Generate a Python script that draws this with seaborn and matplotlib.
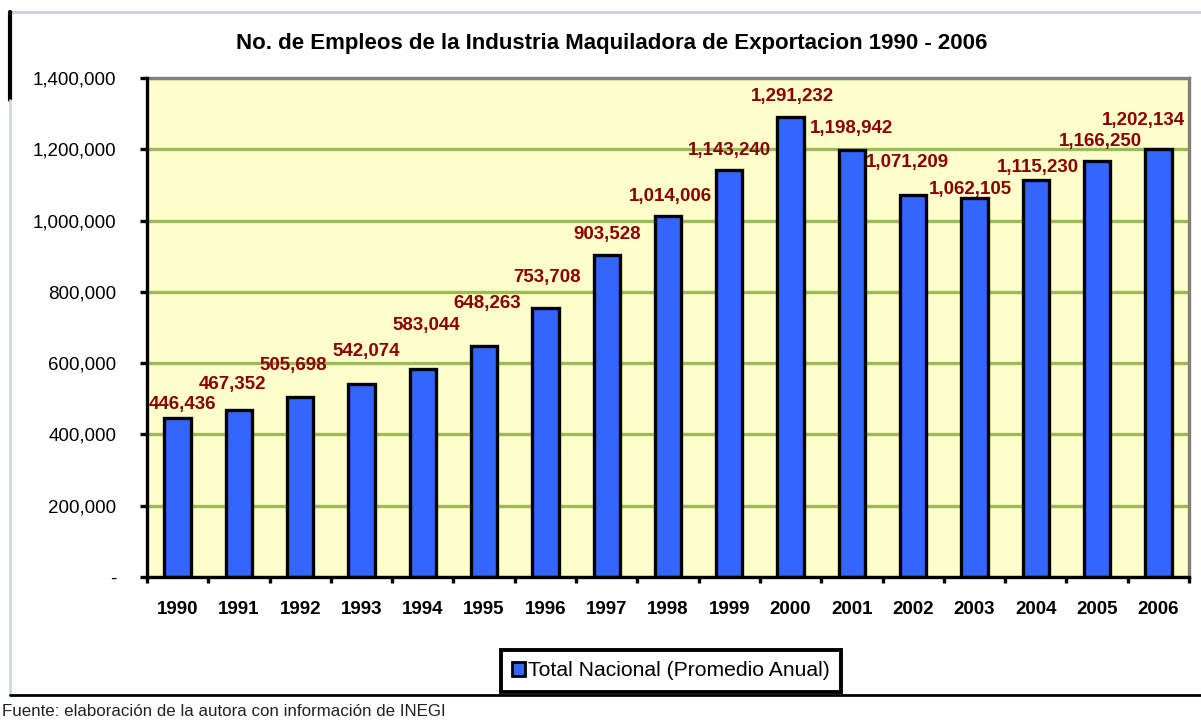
import matplotlib
matplotlib.use("Agg")
import matplotlib.pyplot as plt
import seaborn as sns
import pandas as pd
from matplotlib.ticker import FuncFormatter, MultipleLocator
from matplotlib.lines import Line2D
from matplotlib.patches import Patch

years = ["1990", "1991", "1992", "1993", "1994", "1995", "1996", "1997", "1998",
         "1999", "2000", "2001", "2002", "2003", "2004", "2005", "2006"]
empleos = [446436, 467352, 505698, 542074, 583044, 648263, 753708, 903528, 1014006,
           1143240, 1291232, 1198942, 1071209, 1062105, 1115230, 1166250, 1202134]
series_name = "Total Nacional (Promedio Anual)"
title = "No. de Empleos de la Industria Maquiladora de Exportacion 1990 - 2006"
source = "Fuente: elaboración de la autora con información de INEGI"

# label placement tweaks (pixels), as in the original chart
label_dx = [5, -6, -7, 5, 3, 3, 2, 0, 2, 0, 2, 0, -6, -4, 2, 3, -15]
label_dy = [13, 26, 31, 32, 44, 42, 31, 20, 19, 19, 20, 21, 33, 9, 12, 20, 28]

sns.set_theme(style="white")
plt.rcParams['font.family'] = ['Liberation Sans', 'DejaVu Sans']
plt.rcParams['text.color'] = 'black'
plt.rcParams['xtick.color'] = 'black'
plt.rcParams['ytick.color'] = 'black'
plt.rcParams['axes.labelcolor'] = 'black'

W, H = 1201, 727
fig = plt.figure(figsize=(W / 100, H / 100), dpi=100)
fig.patch.set_facecolor("white")

ax = fig.add_axes([147 / W, 1 - 577 / H, (1189 - 147) / W, (577 - 78) / H])
ax.set_facecolor("#FFFFCC")

df = pd.DataFrame({"year": years, "value": empleos})
sns.barplot(data=df, x="year", y="value", color="#3366FF", width=0.43,
            edgecolor="black", linewidth=2.4, saturation=1, ax=ax, zorder=3)

ax.set_ylim(0, 1400000)
ax.set_xlim(-0.5, len(years) - 0.5)
ax.yaxis.set_major_locator(MultipleLocator(200000))
ax.yaxis.set_major_formatter(FuncFormatter(lambda v, p: "-" if v == 0 else f"{int(v):,}"))
ax.grid(axis="y", color="#9BBB59", linewidth=2.4, zorder=1)
ax.set_axisbelow(True)

for s in ["left", "bottom"]:
    ax.spines[s].set_color("black")
    ax.spines[s].set_linewidth(2.4)
    ax.spines[s].set_zorder(5)
for s in ["top", "right"]:
    ax.spines[s].set_color("#808080")
    ax.spines[s].set_linewidth(2.4)

ax.tick_params(axis="y", which="major", direction="out", length=5, width=2.4,
               color="black", labelcolor="black", labelsize=13.5, left=True, pad=17)
ax.set_xticks(range(len(years)))
ax.set_xticklabels(years, fontweight="bold", fontsize=13.5)
ax.tick_params(axis="x", which="major", length=0, pad=17, labelcolor="black")
ax.set_xticks([i - 0.5 for i in range(len(years) + 1)], minor=True)
ax.tick_params(axis="x", which="minor", direction="out", length=4, width=2.4,
               color="black", bottom=True)
ax.set_xlabel("")
ax.set_ylabel("")

for i, v in enumerate(empleos):
    ax.annotate(f"{v:,}", (i, v), xytext=(label_dx[i], label_dy[i]), textcoords="offset pixels",
                ha="center", va="center", color="#8B0000", fontweight="bold",
                fontsize=13.5, zorder=6, annotation_clip=False)

fig.text(612 / W, 1 - 44 / H, title, ha="center", va="center",
         fontweight="bold", fontsize=16, color="black")

handles = [Patch(facecolor="#3366FF", edgecolor="black", linewidth=2)]
leg = fig.legend(handles, [series_name], loc="center", bbox_to_anchor=(671 / W, 1 - 671 / H),
                 frameon=True, framealpha=1, fontsize=15.2, handlelength=0.6, handleheight=0.6,
                 handletextpad=0.15, borderpad=0.55, borderaxespad=0, fancybox=False)
leg.get_frame().set_edgecolor("black")
leg.get_frame().set_linewidth(2.8)
for t in leg.get_texts():
    t.set_color("black")

# outer frame
fig.add_artist(Line2D([10 / W, 1], [1 - 12 / H, 1 - 12 / H], color="#C5D0E0", linewidth=2))
fig.add_artist(Line2D([10 / W, 10 / W], [1 - 12 / H, 1 - 100 / H], color="black", linewidth=3))
fig.add_artist(Line2D([10 / W, 10 / W], [1 - 100 / H, 1 - 695 / H], color="#D0D8E4", linewidth=2))
fig.add_artist(Line2D([10 / W, 1], [1 - 695 / H, 1 - 695 / H], color="black", linewidth=2))

fig.text(2 / W, 1 - 712 / H, source, ha="left", va="center", fontsize=12.2, color="#222222")

fig.savefig("out.png", dpi=100)
